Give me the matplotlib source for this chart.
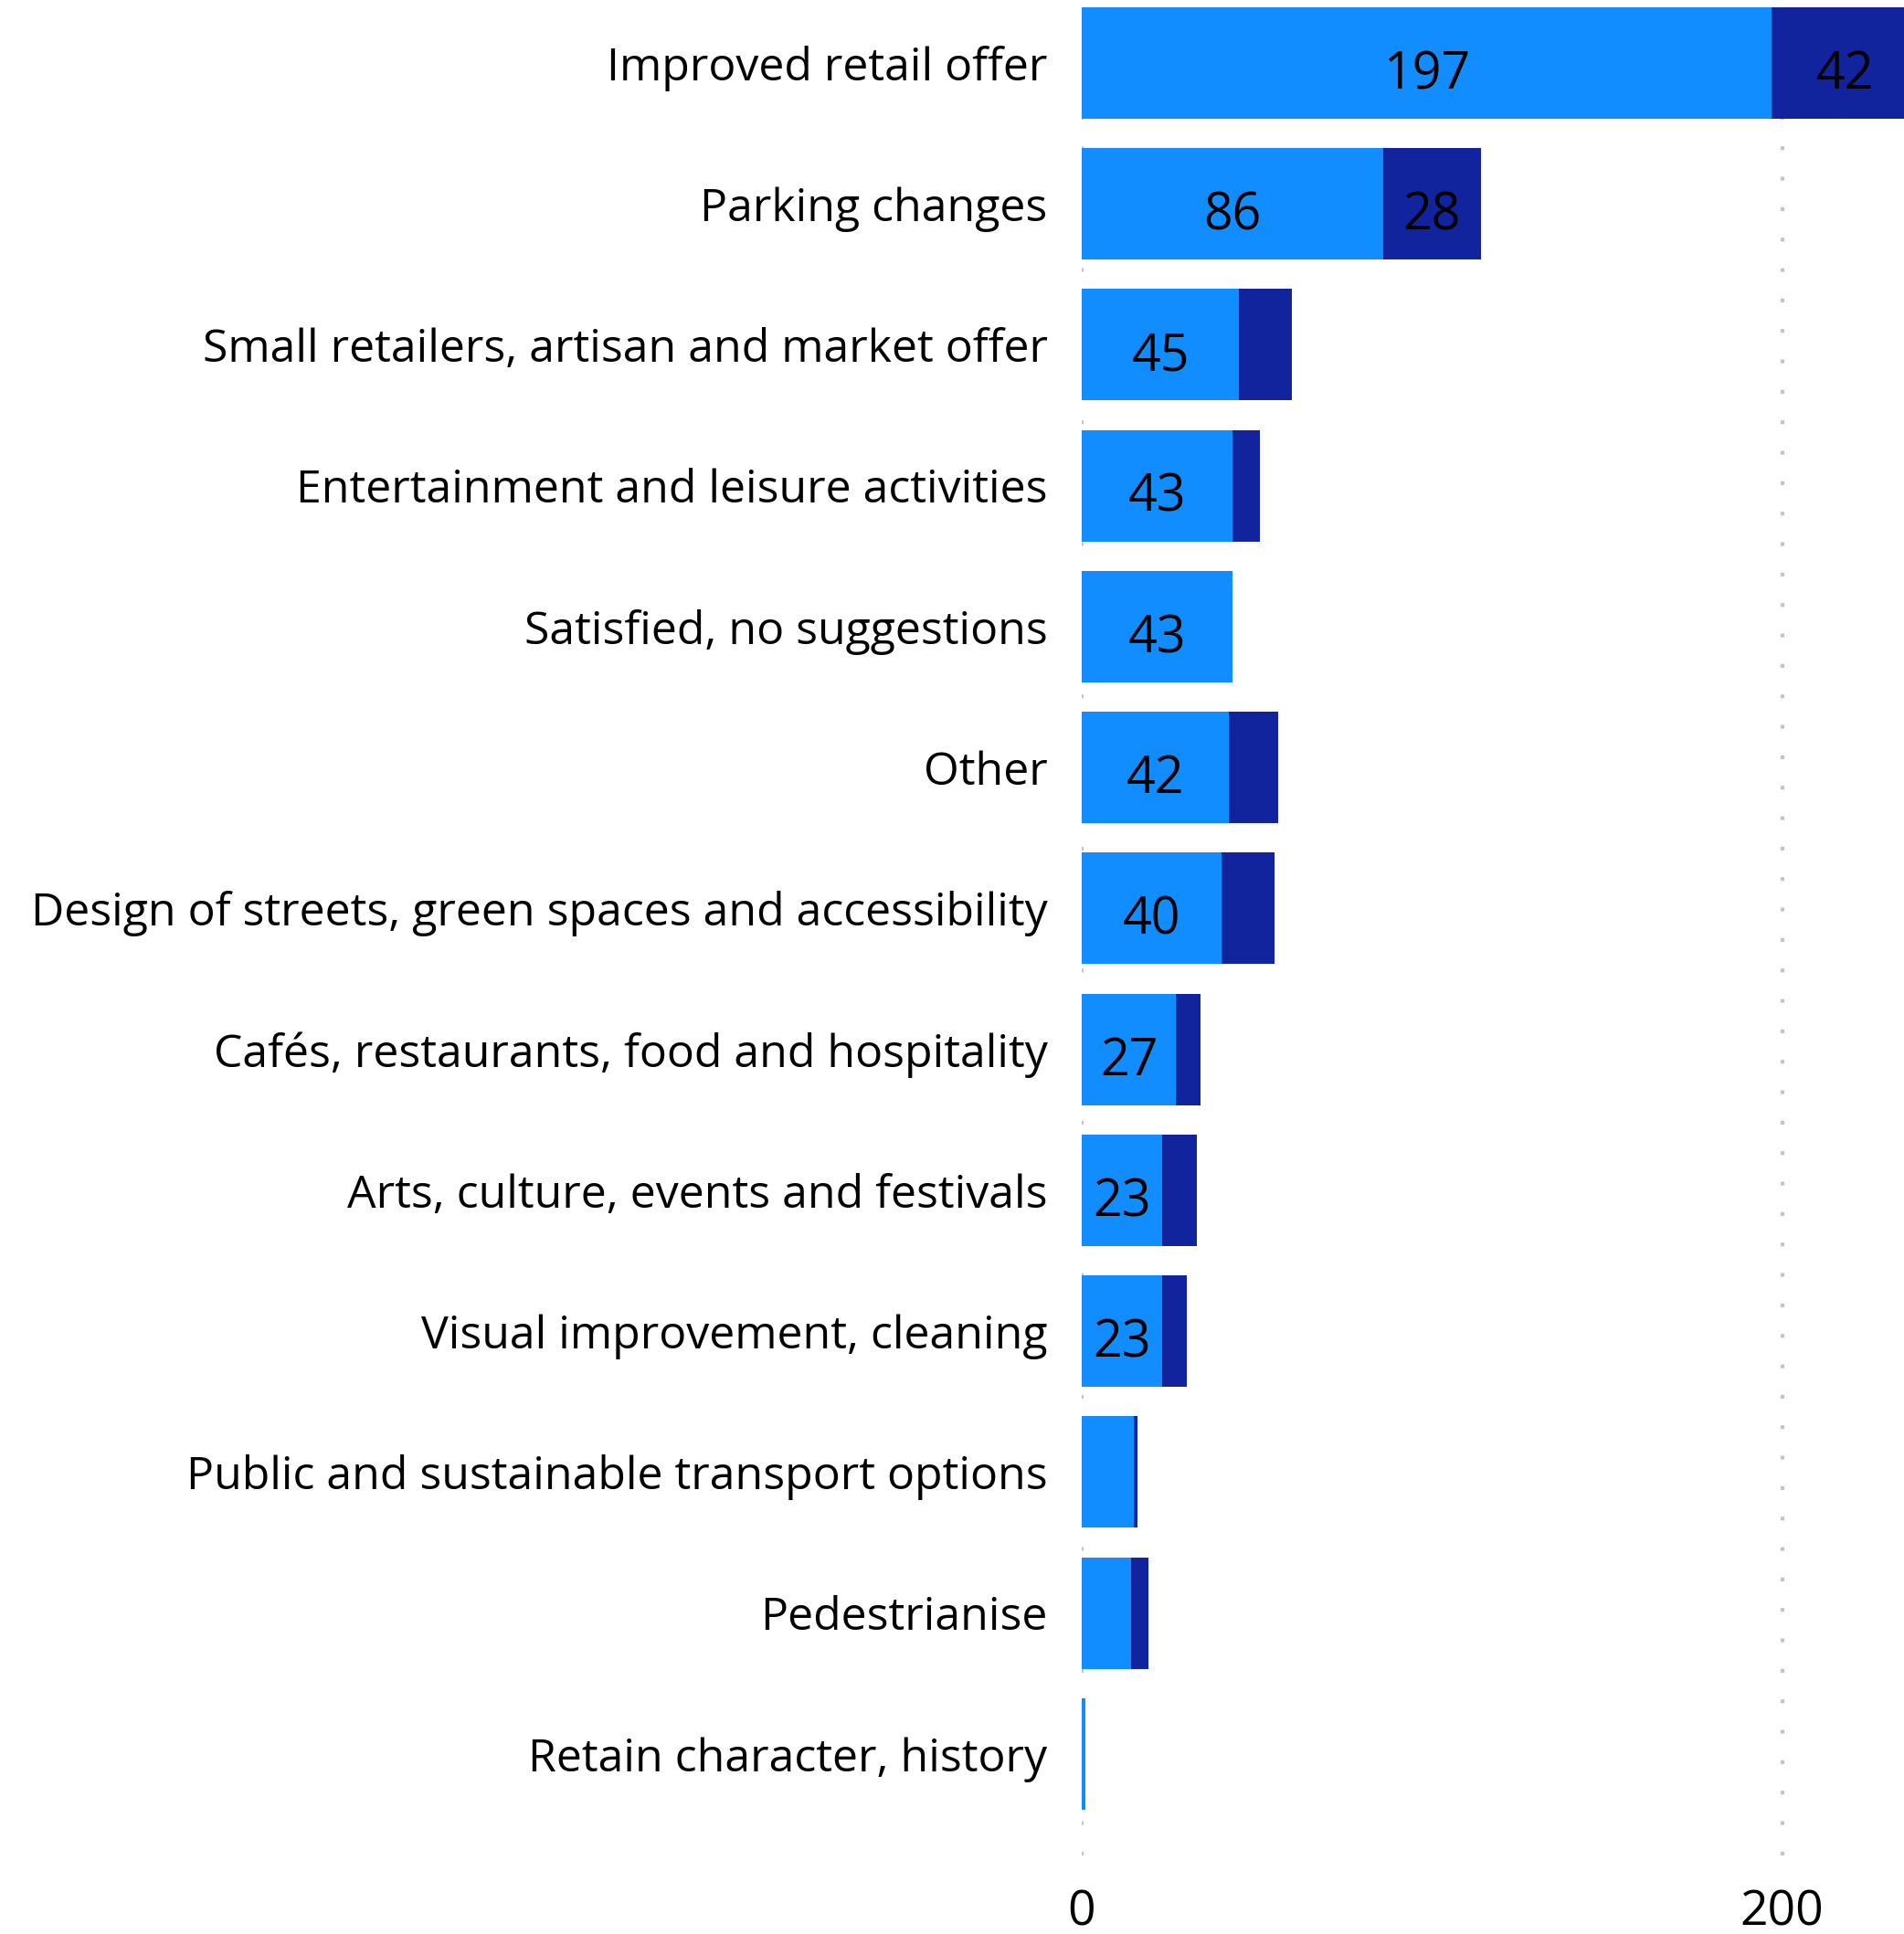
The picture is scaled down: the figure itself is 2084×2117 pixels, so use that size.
import numpy as np
import matplotlib
matplotlib.use("Agg")
import matplotlib.pyplot as plt

plt.rcParams['font.family'] = ['Open Sans', 'DejaVu Sans']

# categories top to bottom
categories = [
    "Improved retail offer",
    "Parking changes",
    "Small retailers, artisan and market offer",
    "Entertainment and leisure activities",
    "Satisfied, no suggestions",
    "Other",
    "Design of streets, green spaces and accessibility",
    "Cafés, restaurants, food and hospitality",
    "Arts, culture, events and festivals",
    "Visual improvement, cleaning",
    "Public and sustainable transport options",
    "Pedestrianise",
    "Retain character, history",
]
light_vals = [197, 86, 45, 43, 43, 42, 40, 27, 23, 23, 15, 14, 1]
dark_vals = [42, 28, 15, 8, 0, 14, 15, 7, 10, 7, 1, 5, 0]
x_ticks = [0, 200]

light_col = "#118DFF"
dark_col = "#12239E"

W, H = 2084, 2117
fig = plt.figure(figsize=(W / 100, H / 100), dpi=100)
ax = fig.add_axes([1184 / W, 1 - 2031 / H, 1 - 1184 / W, 2031 / H])

y = np.arange(len(categories))
light = np.array(light_vals)
dark = np.array(dark_vals)

ax.barh(y, light, height=0.79, color=light_col, zorder=2)
ax.barh(y, dark, left=light, height=0.79, color=dark_col, zorder=2)

# data labels only where the segment is wide enough
for i in range(len(categories)):
    if light[i] >= 20:
        ax.text(light[i] / 2, i + 0.09, str(light[i]), ha='center', va='center',
                fontsize=40, color='black', zorder=3)
    if dark[i] >= 20:
        ax.text(light[i] + dark[i] / 2, i + 0.09, str(dark[i]), ha='center', va='center',
                fontsize=40, color='black', zorder=3)

ax.set_xlim(0, 234.8)
ax.set_ylim(12.72, -0.446)

ax.set_yticks(y)
ax.set_yticklabels(categories, fontsize=36)
ax.set_xticks(x_ticks)
ax.set_xticklabels([str(t) for t in x_ticks], fontsize=38.5)
ax.tick_params(axis='y', length=0, pad=27)
ax.tick_params(axis='x', length=0, pad=26)

for t in x_ticks:
    ax.axvline(t, color="#C4C4C4", linestyle=(0, (1, 7)), linewidth=3, zorder=1)

for s in ax.spines.values():
    s.set_visible(False)

fig.savefig("out.png", dpi=100)
